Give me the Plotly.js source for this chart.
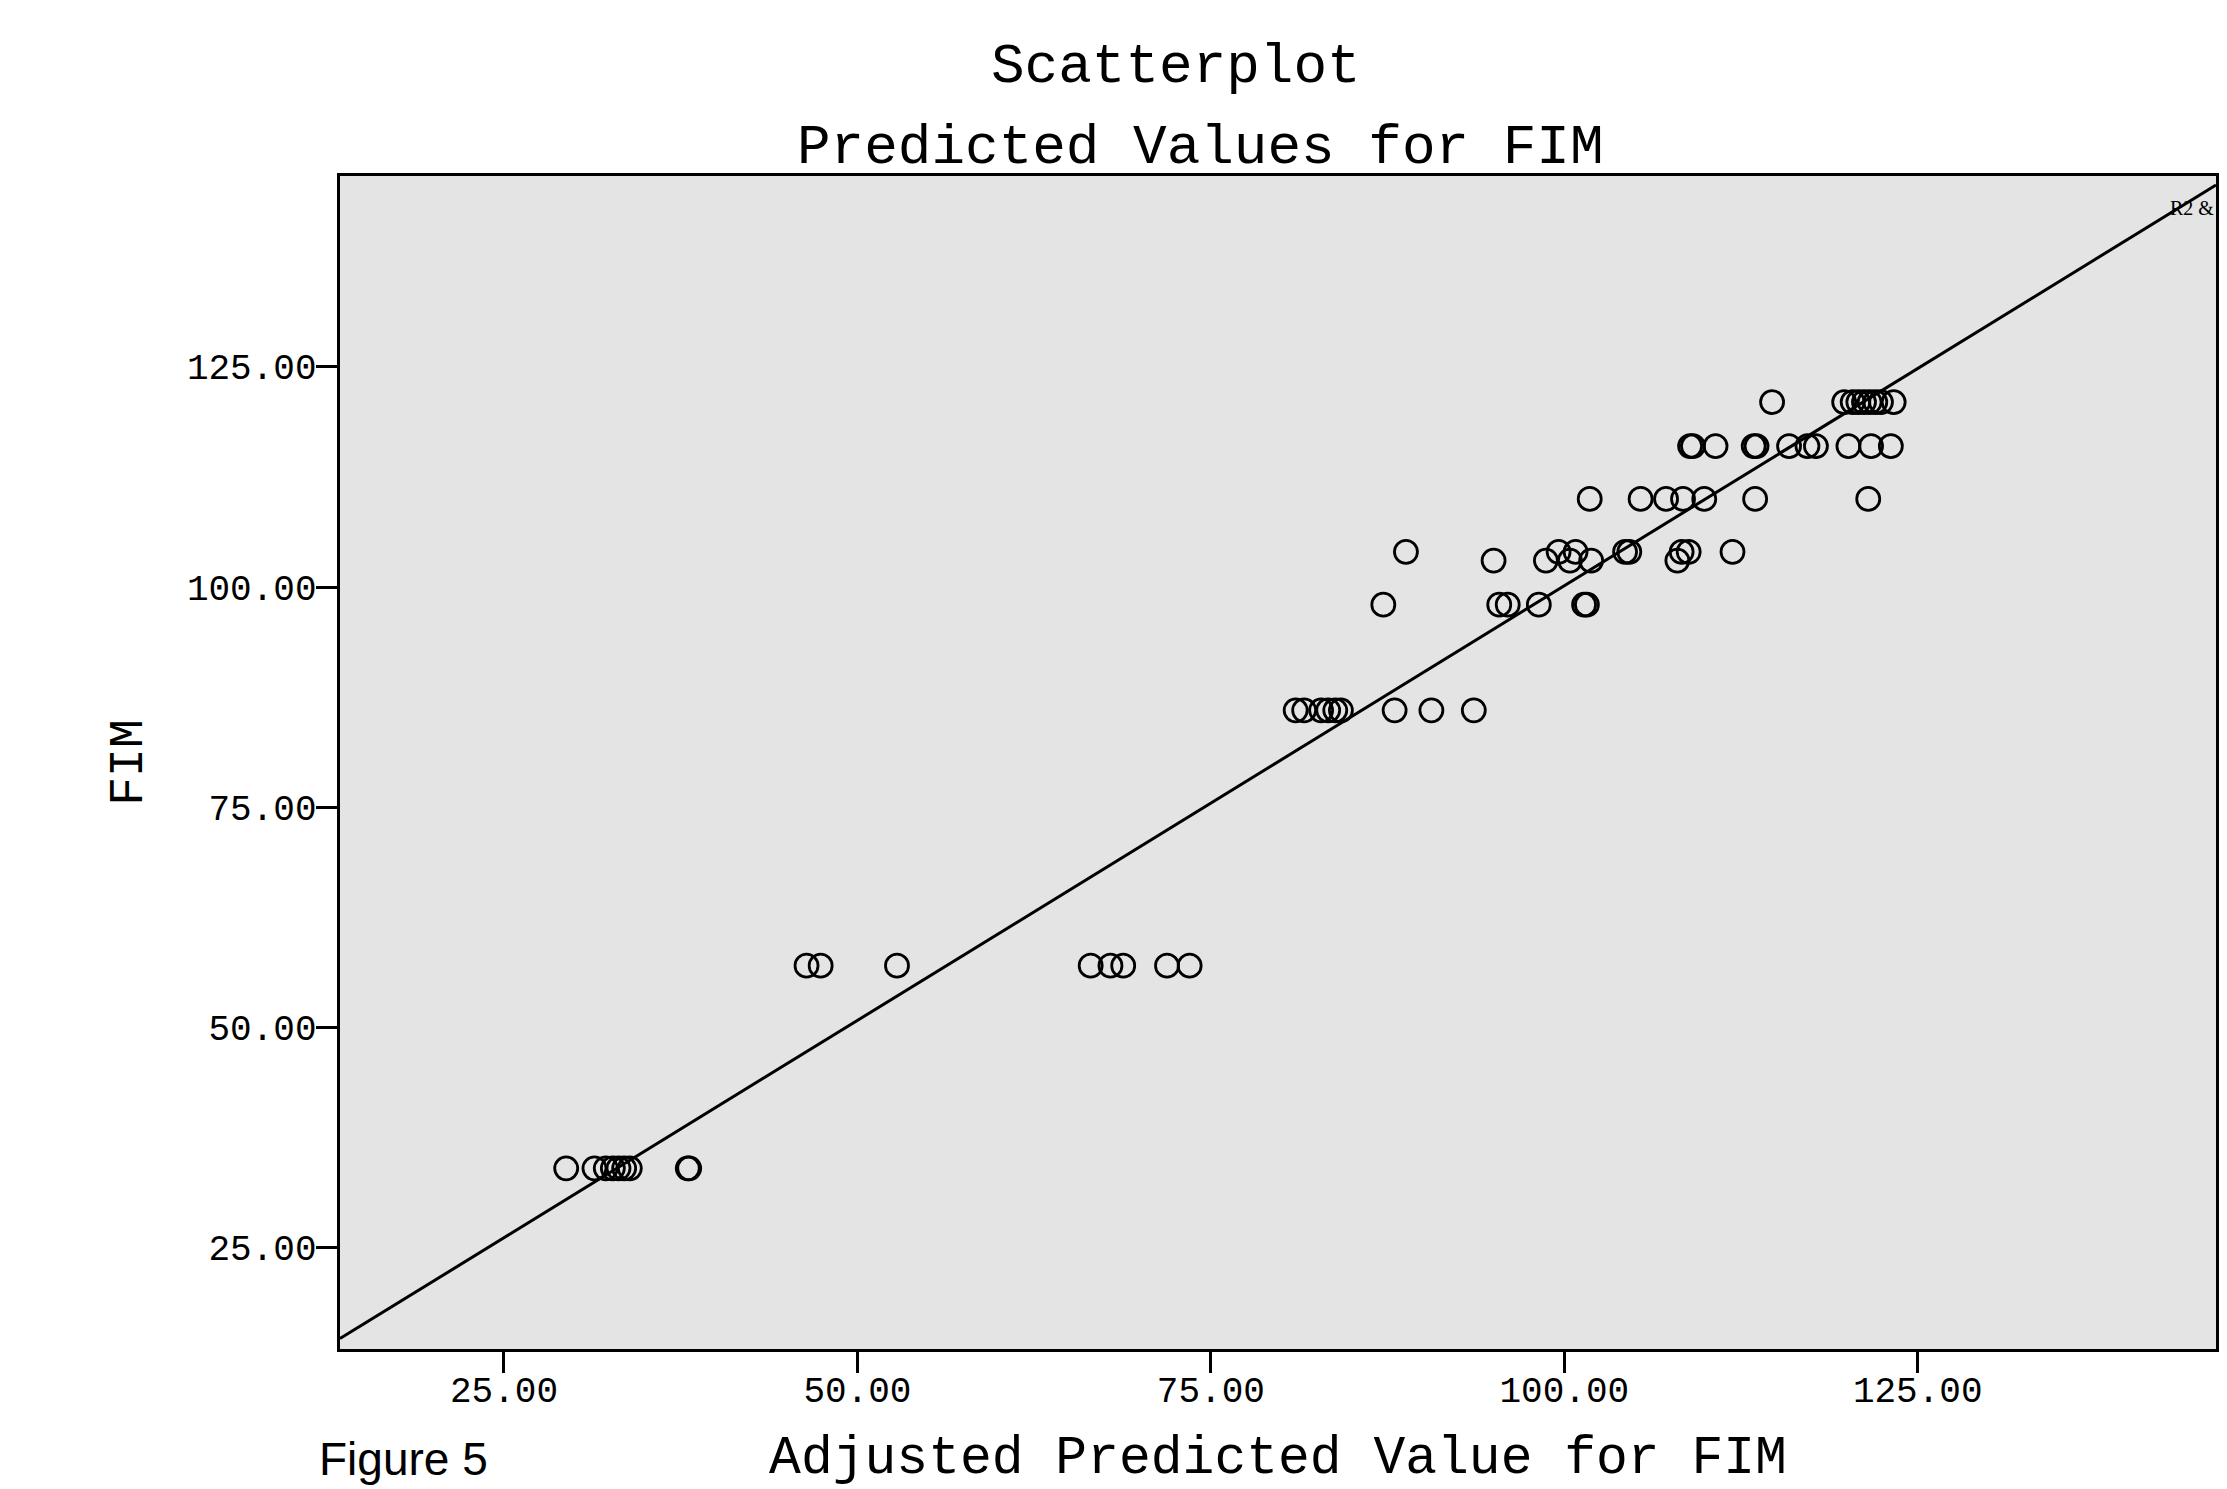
<!DOCTYPE html>
<html>
<head>
<meta charset="utf-8">
<script src="https://cdn.plot.ly/plotly-3.0.1.min.js"></script>
<style>html,body{margin:0;padding:0;background:#fff;}</style>
</head>
<body>
<div id="chart" style="width:2227px;height:1489px;"></div>
<script>
// ---- data ----
// Adjusted Predicted Value for FIM (x), grouped by observed FIM (y)
const fimLevels = [34, 57, 86, 98, 103, 104, 110, 116, 121];
const adjPred34  = [29.4, 31.4, 32.2, 32.7, 33.1, 33.5, 33.9, 38.0, 38.1];
const adjPred57  = [46.4, 47.4, 52.8, 66.5, 67.9, 68.8, 71.9, 73.5];
const adjPred86  = [81.0, 81.6, 82.8, 83.3, 83.8, 84.2, 88.0, 90.6, 93.6];
const adjPred98  = [87.2, 95.4, 96.0, 98.2, 101.4, 101.6];
const adjPred103 = [95.0, 98.7, 100.4, 101.9, 108.0];
const adjPred104 = [88.8, 99.6, 100.8, 104.3, 104.6, 108.3, 108.8, 111.9];
const adjPred110 = [101.8, 105.4, 107.2, 108.4, 109.9, 113.5, 121.5];
const adjPred116 = [108.9, 109.1, 110.7, 113.4, 113.6, 115.9, 117.2, 117.8, 120.1, 121.7, 123.1];
const adjPred121 = [114.7, 119.8, 120.4, 120.8, 121.2, 121.6, 122.0, 122.4, 123.3];
const adjPredGroups = [adjPred34, adjPred57, adjPred86, adjPred98, adjPred103, adjPred104, adjPred110, adjPred116, adjPred121];

// fit line (linear) coefficients
const fitIntercept = 1.44;
const fitSlope = 0.987;

const tickValues = [25, 50, 75, 100, 125];
const xRange = [13.4, 146.1];
const yRange = [13.48, 146.67];

// ---- build traces ----
const xs = [], ys = [];
adjPredGroups.forEach((grp, i) => {
  grp.forEach(v => { xs.push(v); ys.push(fimLevels[i]); });
});

const fitX = xRange.slice();
const fitY = fitX.map(v => fitIntercept + fitSlope * v);

const mono = 'Liberation Mono, Courier New, monospace';

const traces = [
  {
    x: fitX, y: fitY, type: 'scatter', mode: 'lines',
    line: {color: '#000', width: 3},
    hoverinfo: 'skip', showlegend: false, cliponaxis: true
  },
  {
    x: xs, y: ys, type: 'scatter', mode: 'markers',
    marker: {symbol: 'circle-open', size: 23, color: '#000', line: {width: 2.8, color: '#000'}},
    showlegend: false, cliponaxis: false
  }
];

const axisCommon = {
  tickvals: tickValues,
  tickformat: '.2f',
  ticks: 'outside', ticklen: 21, tickwidth: 3, tickcolor: '#000',
  showline: true, linewidth: 3.3, linecolor: '#000', mirror: true,
  showgrid: false, zeroline: false,
  tickfont: {family: mono, size: 36, color: '#000'}
};

const layout = {
  width: 2227, height: 1489, autosize: false,
  paper_bgcolor: '#ffffff', plot_bgcolor: '#e4e4e4',
  margin: {l: 340, r: 11, t: 176, b: 140, pad: 0},
  showlegend: false,
  title: {
    text: 'Scatterplot',
    font: {family: mono, size: 56, color: '#000'},
    xref: 'container', yref: 'container',
    x: 0.528, y: 1 - 62 / 1489, xanchor: 'center', yanchor: 'middle'
  },
  xaxis: Object.assign({}, axisCommon, {
    range: xRange,
    ticklabelstandoff: -15,
    title: {text: 'Adjusted Predicted Value for FIM', font: {family: mono, size: 53, color: '#000'}, standoff: 56}
  }),
  yaxis: Object.assign({}, axisCommon, {
    range: yRange,
    ticklabelstandoff: -8,
    title: {text: 'FIM', font: {family: mono, size: 48, color: '#000'}, standoff: 30}
  }),
  annotations: [
    {
      text: 'Predicted Values for FIM', showarrow: false,
      xref: 'paper', yref: 'paper', x: (1200 - 340) / 1876, y: 1 + (176 - 148) / 1172.7,
      xanchor: 'center', yanchor: 'middle',
      font: {family: mono, size: 56, color: '#000'}
    },
    {
      text: 'R2 &', showarrow: false,
      xref: 'paper', yref: 'paper', x: (2168 - 340) / 1876, y: 1 - (208 - 176) / 1172.7,
      xanchor: 'left', yanchor: 'middle',
      font: {family: 'Liberation Sans, Arial, sans-serif', size: 20, color: '#000'}
    },
    {
      text: 'Figure 5', showarrow: false,
      xref: 'paper', yref: 'paper', x: (317 - 340) / 1876, y: (1348.7 - 1431) / 1172.7,
      xanchor: 'left', yanchor: 'top',
      font: {family: 'Liberation Sans, Arial, sans-serif', size: 46, color: '#000'}
    }
  ]
};

// R2 label uses serif face like the reference
layout.annotations[1].font.family = 'Liberation Serif, serif';

Plotly.newPlot('chart', traces, layout, {displayModeBar: false, staticPlot: true});
</script>
</body>
</html>
